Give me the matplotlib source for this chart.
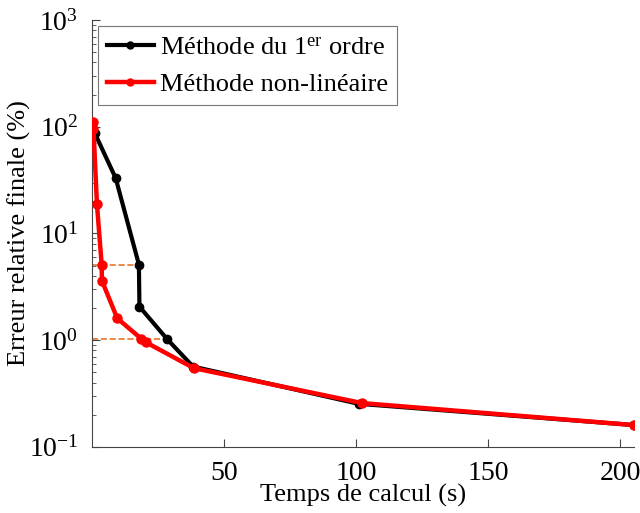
import matplotlib
matplotlib.use("Agg")
import matplotlib.pyplot as plt
from matplotlib.ticker import LogLocator, FixedLocator, NullFormatter, LogFormatterMathtext

plt.rcParams['font.family'] = ['Liberation Serif', 'DejaVu Serif']
plt.rcParams['mathtext.fontset'] = 'custom'
plt.rcParams['mathtext.rm'] = 'Liberation Serif'
plt.rcParams['mathtext.it'] = 'Liberation Serif:italic'

# Data
t_first = [0.9, 8.9, 17.7, 17.9, 28.4, 38.2, 100.9, 205]
e_first = [88, 33, 5.1, 2.06, 1.02, 0.565, 0.253, 0.16]
t_nl = [0.3, 0.5, 1.8, 3.6, 3.7, 9.5, 18.6, 20.5, 38.5, 102.2, 205]
e_nl = [110, 96, 18.9, 5.1, 3.6, 1.6, 1.03, 0.95, 0.546, 0.257, 0.16]
ref_levels = [5.1, 1.02]
ref_times = [17.7, 28.4]
labels = ['Méthode du 1$^{\\mathrm{er}}$ ordre', 'Méthode non-linéaire']
xticks = [50, 100, 150, 200]

fig = plt.figure(figsize=(6.4, 5.13), dpi=100)
ax = fig.add_axes([0.144, 0.129, 0.846, 0.832])

for lv, tt in zip(ref_levels, ref_times):
    ax.plot([0, tt], [lv, lv], linestyle='--', color='#E8762B', lw=1.2, zorder=1)

ax.plot(t_first, e_first, '-o', color='black', lw=3, ms=6, label=labels[0], zorder=2)
ax.plot(t_nl, e_nl, '-o', color='#FF0000', lw=3.2, ms=6.5, label=labels[1], zorder=3)

ax.set_yscale('log')
ax.set_ylim(0.1, 1000)
ax.set_xlim(0, 205)
ax.xaxis.set_major_locator(FixedLocator(xticks))
ax.yaxis.set_major_locator(LogLocator(base=10, numticks=10))
ax.yaxis.set_minor_locator(LogLocator(base=10, subs=range(2, 10), numticks=20))
ax.yaxis.set_minor_formatter(NullFormatter())
ax.yaxis.set_major_formatter(LogFormatterMathtext())

ax.spines['top'].set_visible(False)
ax.spines['right'].set_visible(False)
for s in ['left', 'bottom']:
    ax.spines[s].set_color('#444444')
    ax.spines[s].set_linewidth(0.8)

ax.tick_params(axis='both', which='both', direction='in', labelsize=20, colors='#444444', labelcolor='black')
ax.tick_params(axis='both', which='major', length=6)
ax.tick_params(axis='y', which='minor', length=3)
ax.tick_params(axis='y', pad=10)
ax.tick_params(axis='x', pad=10)

ax.set_xlabel('Temps de calcul (s)', fontsize=19, labelpad=-1)
ax.set_ylabel('Erreur relative finale (%)', fontsize=19, labelpad=-2)

leg = ax.legend(loc='upper left', fontsize=19, frameon=True, fancybox=False,
                edgecolor='#555555', handlelength=1.75, borderpad=0.35,
                labelspacing=0.5, handletextpad=0.25, bbox_to_anchor=(0.011, 0.985),
                borderaxespad=0.0)
leg.get_frame().set_linewidth(0.8)
for h in leg.legend_handles:
    h.set_markersize(5)

fig.savefig('out.png', dpi=100)
